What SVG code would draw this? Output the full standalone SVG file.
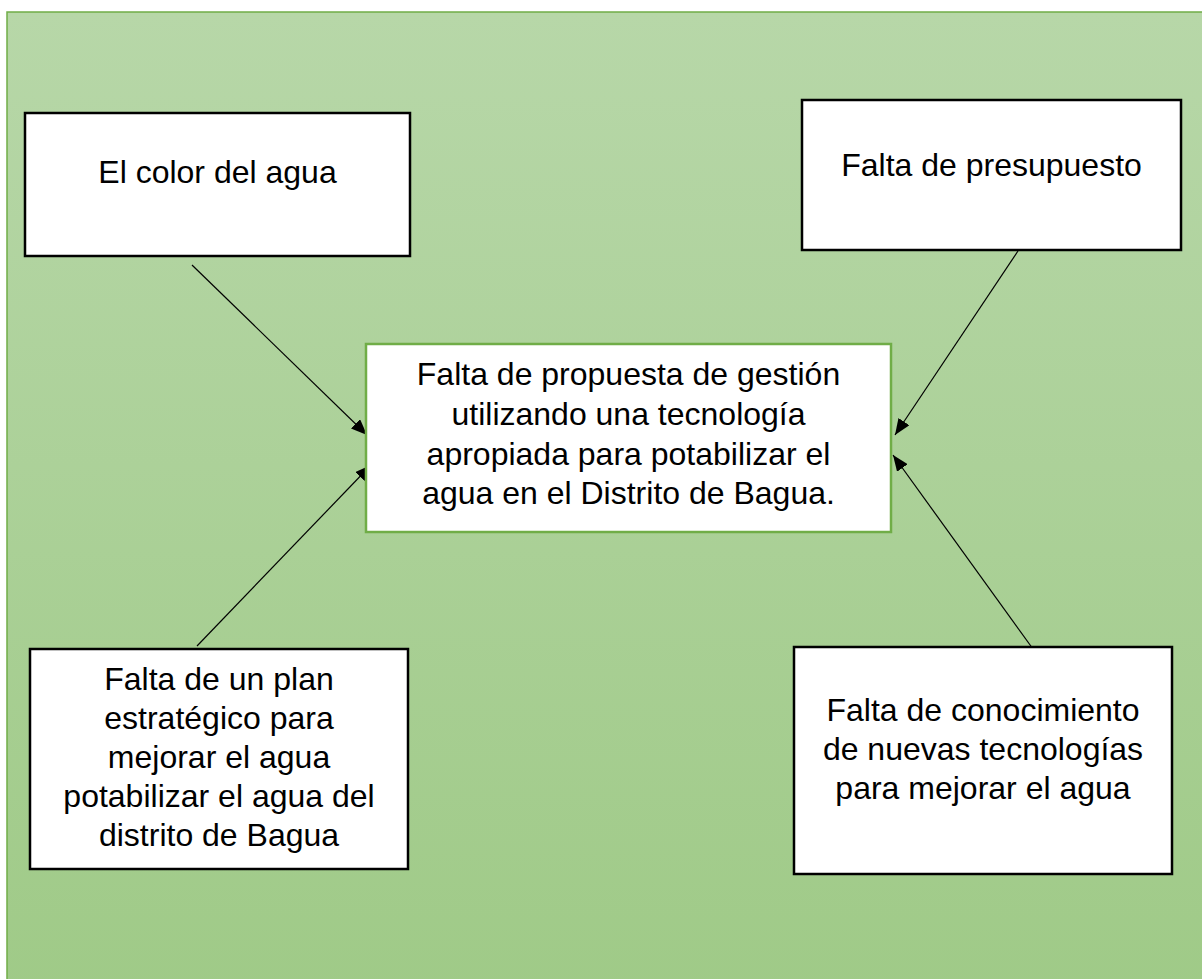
<svg xmlns="http://www.w3.org/2000/svg" width="1202" height="979" viewBox="0 0 1202 979">
<defs>
<linearGradient id="bg" x1="0" y1="0" x2="0" y2="1">
<stop offset="0" stop-color="#b7d7a8"/>
<stop offset="1" stop-color="#9fca87"/>
</linearGradient>
<marker id="ah" viewBox="0 0 16 13" refX="16" refY="6.5" markerWidth="16" markerHeight="13" markerUnits="userSpaceOnUse" orient="auto">
<path d="M0,0 L16,6.5 L0,13 z" fill="#000"/>
</marker>
<style>
.box{fill:#fff;stroke:#000;stroke-width:2.5}
.main{fill:#fff;stroke:#70ad47;stroke-width:2.5}
.t{font-family:"Liberation Sans",Arial,sans-serif;font-size:32px;fill:#000;text-anchor:middle}
.c{stroke:#000;stroke-width:1.2;fill:none;marker-end:url(#ah)}
</style>
</defs>
<rect x="7" y="12" width="1210" height="990" fill="url(#bg)" stroke="#70ad47" stroke-width="1.5"/>
<g id="connectors">
<line class="c" x1="192" y1="265" x2="367" y2="435"/>
<line class="c" x1="197" y1="646" x2="371" y2="465"/>
<line class="c" x1="1018" y1="251" x2="895" y2="435"/>
<line class="c" x1="1033" y1="649" x2="893" y2="455"/>
</g>
<g id="n-color">
<rect class="box" x="25" y="113" width="385" height="143"/>
<text class="t" x="217.5" y="183">El color del agua</text>
</g>
<g id="n-presupuesto">
<rect class="box" x="802" y="100" width="379" height="150"/>
<text class="t" x="991.5" y="176">Falta de presupuesto</text>
</g>
<g id="n-central">
<rect class="main" x="366" y="344" width="525" height="188"/>
<text class="t" x="628.5" y="385">Falta de propuesta de gestión</text>
<text class="t" x="628.5" y="425">utilizando una tecnología</text>
<text class="t" x="628.5" y="465">apropiada para potabilizar el</text>
<text class="t" x="628.5" y="504">agua en el Distrito de Bagua.</text>
</g>
<g id="n-plan">
<rect class="box" x="30" y="649" width="378" height="220"/>
<text class="t" x="219" y="690">Falta de un plan</text>
<text class="t" x="219" y="729">estratégico para</text>
<text class="t" x="219" y="768">mejorar el agua</text>
<text class="t" x="219" y="807">potabilizar el agua del</text>
<text class="t" x="219" y="846">distrito de Bagua</text>
</g>
<g id="n-conocimiento">
<rect class="box" x="794" y="647" width="378" height="227"/>
<text class="t" x="983" y="721">Falta de conocimiento</text>
<text class="t" x="983" y="760">de nuevas tecnologías</text>
<text class="t" x="983" y="799">para mejorar el agua</text>
</g>
</svg>
